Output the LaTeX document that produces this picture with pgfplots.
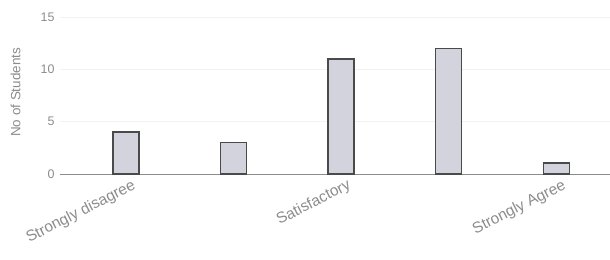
\documentclass[border=0pt]{standalone}
\usepackage{pgfplots}
\pgfplotsset{compat=1.18}
\usepackage{fontspec}
\setmainfont{Liberation Sans}
\definecolor{txt}{HTML}{8C8C8C}
\definecolor{barfill}{HTML}{D3D3DE}
\definecolor{baredge}{HTML}{4A4A4A}
\begin{document}
\begin{tikzpicture}
\useasboundingbox (-60bp,-86bp) rectangle (550bp,174bp);
\begin{axis}[
  at={(0,0)}, anchor=south west,
  scale only axis=true,
  width=550bp, height=157bp,
  xmin=-0.613, xmax=4.5,
  ymin=0, ymax=15,
  axis x line*=bottom, axis y line*=left,
  x axis line style={draw=txt, line width=0.7pt, -},
  y axis line style={draw=none, -},
  ytick={0,5,10,15},
  xtick={0,2,4},
  xticklabels={Strongly disagree,Satisfactory,Strongly Agree},
  x tick label style={rotate=27, anchor=north east, font=\fontsize{15.5}{17}\selectfont, text=txt, inner sep=1pt, yshift=-5bp, xshift=4bp},
  y tick label style={font=\fontsize{12.5}{14}\selectfont, text=txt, xshift=-2bp},
  /pgf/number format/assume math mode=true,
  ymajorgrids=true,
  grid style={draw=gray!10, line width=0.6pt},
  major tick length=0pt,
  tick style={draw=none},
  ylabel={No of Students},
  ylabel style={font=\fontsize{13.5}{15}\selectfont, text=txt, at={(-36bp,0.52)}},
  clip=false,
]
\addplot[ybar, bar width=26bp, fill=barfill, draw=baredge, line width=1.4pt]
  coordinates {(0,4) (1,3) (2,11) (3,12) (4,1.05)};
\end{axis}
\end{tikzpicture}
\end{document}
